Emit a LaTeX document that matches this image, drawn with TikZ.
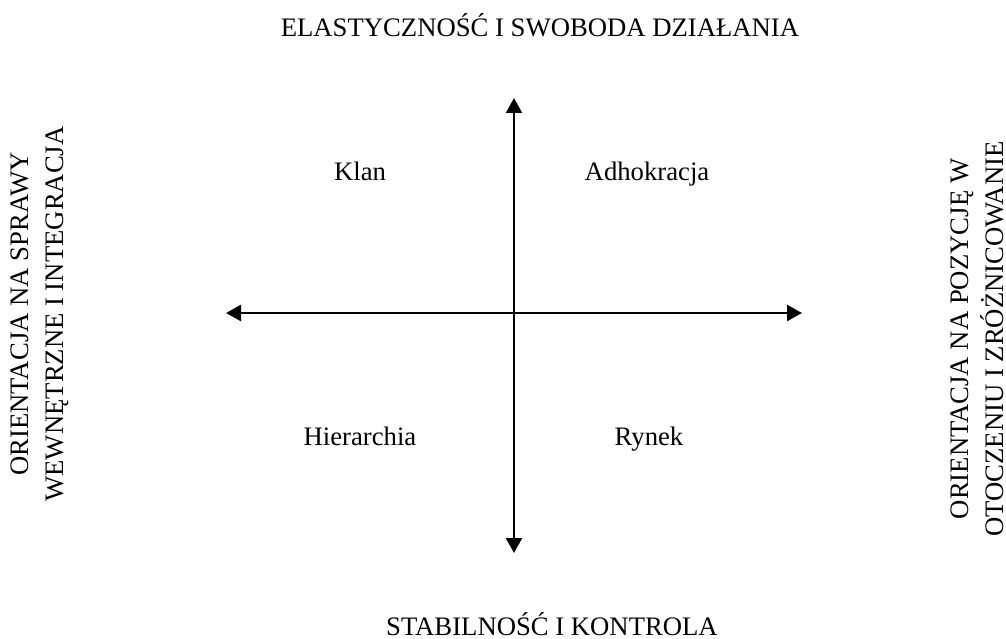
\documentclass[tikz,border=0pt]{standalone}
\usepackage{fontspec}
\setmainfont{Liberation Serif}
\usetikzlibrary{arrows.meta}

\tikzset{
  os/.style={line width=2.1pt, {Triangle[length=15pt,width=16pt]}-{Triangle[length=15pt,width=16pt]}},
  napis/.style={font=\fontsize{26.7}{35}\selectfont, inner sep=0pt},
  bok/.style={napis, rotate=90, align=center},
}

\begin{document}
\begin{tikzpicture}[x=1pt, y=-1pt]
  \useasboundingbox (0,0) rectangle (1006,639);
  % osie
  \coordinate (gora) at (514,98);
  \coordinate (dol) at (514,553);
  \coordinate (lewo) at (226,313);
  \coordinate (prawo) at (802,313);
  \draw[os] (dol) -- (gora);
  \draw[os, line width=2.6pt] (lewo) -- (prawo);
  % podpisy osi
  \node[napis, anchor=base] (elast) at (540,37) {ELASTYCZNOŚĆ I SWOBODA DZIAŁANIA};
  \node[napis, anchor=base] (stab) at (552,635) {STABILNOŚĆ I KONTROLA};
  \node[bok] (wewn) at (40,314) {ORIENTACJA NA SPRAWY\\WEWNĘTRZNE I INTEGRACJA};
  \node[bok] (otocz) at (977,339) {ORIENTACJA NA POZYCJĘ W\\OTOCZENIU I ZRÓŻNICOWANIE};
  % ćwiartki
  \node[napis, anchor=base] (klan) at (360,181) {Klan};
  \node[napis, anchor=base] (adho) at (647,181) {Adhokracja};
  \node[napis, anchor=base] (hier) at (360,445) {Hierarchia};
  \node[napis, anchor=base] (rynek) at (649,445) {Rynek};
\end{tikzpicture}
\end{document}
